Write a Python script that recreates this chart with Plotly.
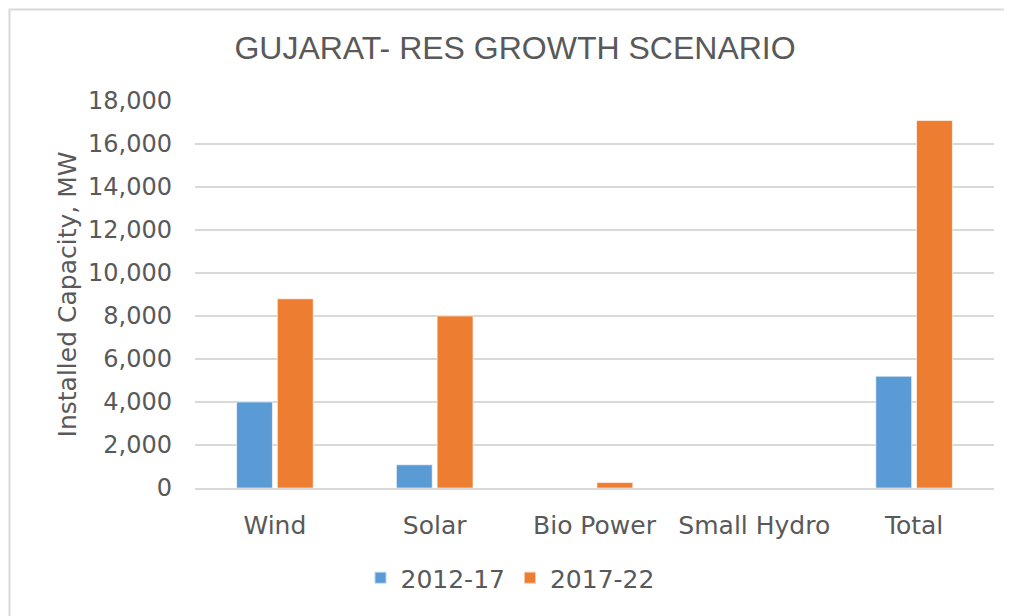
import plotly.graph_objects as go

categories = ["Wind", "Solar", "Bio Power", "Small Hydro", "Total"]
series_2012_17 = [4000, 1080, 0, 0, 5200]
series_2017_22 = [8800, 8000, 250, 0, 17090]
y_ticks = [0, 2000, 4000, 6000, 8000, 10000, 12000, 14000, 16000, 18000]
y_tick_labels = ["0", "2,000", "4,000", "6,000", "8,000", "10,000", "12,000", "14,000", "16,000", "18,000"]

# page body has an 8px margin; target screen positions are converted to figure coords
OFF = 8
W, H = 1012, 616
plot_left, plot_right, plot_top, plot_bottom = 195, 994, 101, 488  # screen px
L = plot_left - OFF
T = plot_top - OFF
R = W - (plot_right - OFF)
B = H - (plot_bottom - OFF)
pw, ph = W - L - R, H - T - B

def px_x(x):
    return (x - plot_left) / pw

def px_y(y):
    return (plot_bottom - y) / ph

txt = "#595959"
grid = "#d9d9d9"
font_main = "DejaVu Sans, Verdana, sans-serif"

fig = go.Figure()
fig.add_trace(go.Bar(name="2012-17", x=categories, y=series_2012_17,
                     marker=dict(color="#5b9bd5", line=dict(color="rgba(255,255,255,0.6)", width=1))))
fig.add_trace(go.Bar(name="2017-22", x=categories, y=series_2017_22,
                     marker=dict(color="#ed7d31", line=dict(color="rgba(255,255,255,0.6)", width=1))))

fig.update_layout(
    width=W, height=H,
    margin=dict(l=L, r=R, t=T, b=B),
    paper_bgcolor="white", plot_bgcolor="white",
    barmode="group", bargap=0.49, bargroupgap=0.12,
    font=dict(family=font_main, size=24, color=txt),
    title=dict(text="GUJARAT- RES GROWTH SCENARIO", xref="container", yref="container",
               x=(515 - OFF) / W, xanchor="center", y=1 - (48 - OFF) / H, yanchor="middle",
               font=dict(family="Liberation Sans, Arial, sans-serif", size=32, color=txt)),
    xaxis=dict(showgrid=False, showline=True, linecolor=grid, linewidth=2,
               tickfont=dict(size=25, color=txt), ticks="", ticklabelstandoff=14),
    yaxis=dict(range=[0, 18000], tickvals=y_ticks, ticktext=y_tick_labels,
               showgrid=True, gridcolor=grid, gridwidth=2, zeroline=False,
               showline=False, ticks="", ticklabelstandoff=22,
               tickfont=dict(size=24, color=txt),
               title=dict(text="Installed Capacity, MW", font=dict(size=25, color=txt), standoff=4)),
    legend=dict(orientation="h", x=px_x(510), xanchor="center", y=px_y(578), yanchor="middle",
                font=dict(size=25, color=txt), itemsizing="constant", traceorder="normal",
                itemwidth=30),
    showlegend=True,
)

fig.add_shape(type="rect", xref="paper", yref="paper",
              x0=px_x(9.5), x1=px_x(1400), y0=px_y(900), y1=px_y(9.5),
              line=dict(color=grid, width=2), fillcolor="rgba(0,0,0,0)", layer="below")

fig.write_html("out.html")
